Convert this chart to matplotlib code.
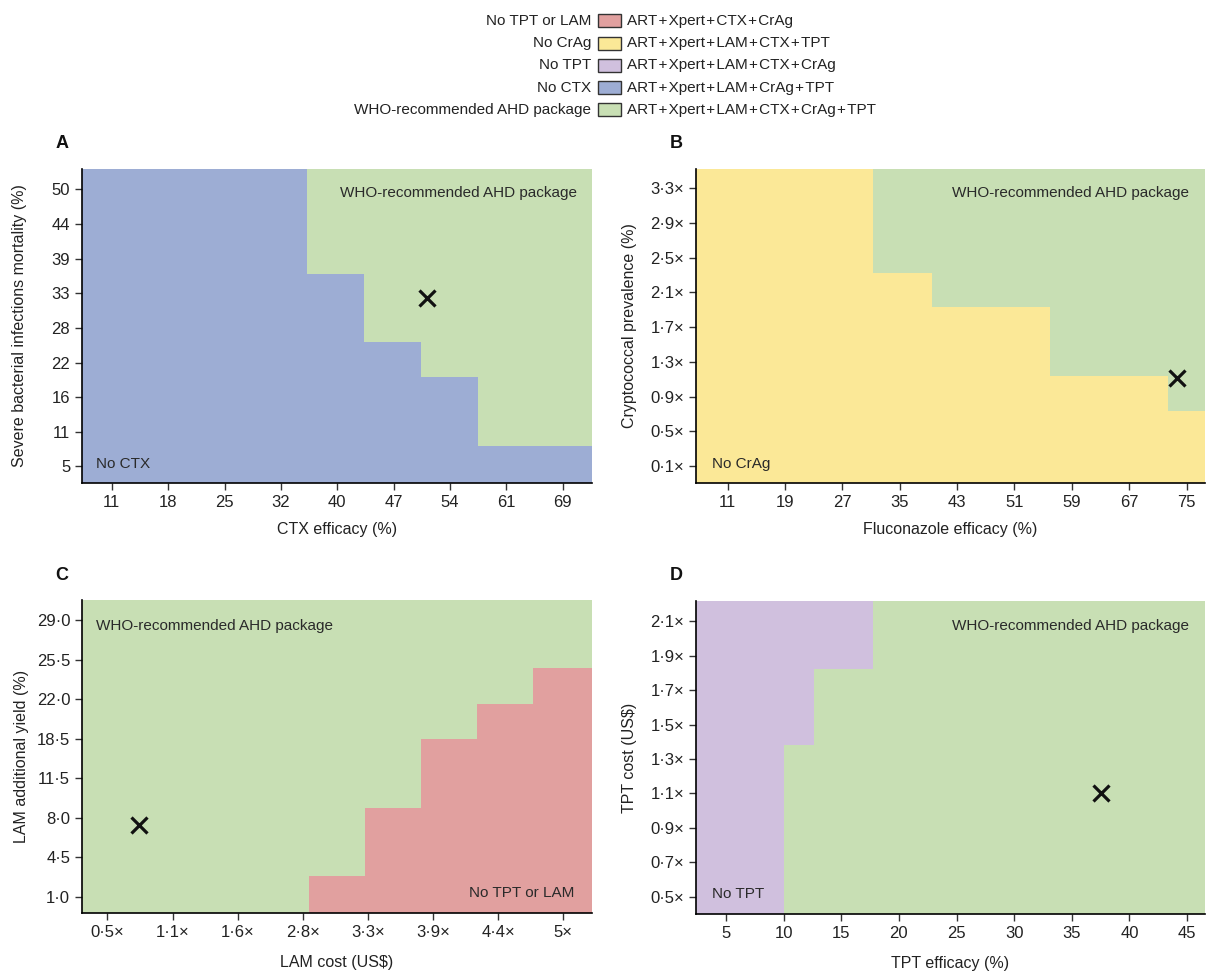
import matplotlib
matplotlib.use("Agg")
import matplotlib.pyplot as plt
from matplotlib.patches import Rectangle

plt.rcParams['font.family'] = ['Liberation Sans', 'DejaVu Sans']
plt.rcParams['font.size'] = 11

# colours of the strategies
c_green = '#c8dfb4'
c_blue = '#9dadd4'
c_yellow = '#fbe897'
c_purple = '#d0c0de'
c_red = '#e1a09f'

sp = '\u200a+\u200a'   # tight spacing round the plus signs

# legend rows
leg_left = ['No TPT or LAM', 'No CrAg', 'No TPT', 'No CTX', 'WHO-recommended AHD package']
leg_right = [sp.join(['ART', 'Xpert', 'CTX', 'CrAg']),
             sp.join(['ART', 'Xpert', 'LAM', 'CTX', 'TPT']),
             sp.join(['ART', 'Xpert', 'LAM', 'CTX', 'CrAg']),
             sp.join(['ART', 'Xpert', 'LAM', 'CrAg', 'TPT']),
             sp.join(['ART', 'Xpert', 'LAM', 'CTX', 'CrAg', 'TPT'])]
leg_colors = [c_red, c_yellow, c_purple, c_blue, c_green]

# panel A
a_x = ['11', '18', '25', '32', '40', '47', '54', '61', '69']
a_y = ['5', '11', '16', '22', '28', '33', '39', '44', '50']
a_step_x = [3.47, 4.48, 5.49, 6.49]      # green starts here (index units)
a_step_y = [5.57, 3.59, 2.57, 0.59]      # green above this level
a_cross = (5.60, 4.85)

# panel B
b_x = ['11', '19', '27', '35', '43', '51', '59', '67', '75']
b_y = ['0·1×', '0·5×', '0·9×', '1·3×', '1·7×', '2·1×', '2·5×', '2·9×', '3·3×']
b_step_x = [2.54, 3.57, 5.62, 7.67]
b_step_y = [5.57, 4.57, 2.58, 1.57]
b_cross = (7.84, 2.54)

# panel C
c_x = ['0·5×', '1·1×', '1·6×', '2·8×', '3·3×', '3·9×', '4·4×', '5×']
c_y = ['1·0', '4·5', '8·0', '11·5', '18·5', '22·0', '25·5', '29·0']
c_step_x = [3.09, 3.95, 4.81, 5.68, 6.54]   # red starts here
c_step_y = [0.53, 2.25, 4.00, 4.89, 5.78]   # red below this level
c_cross = (0.49, 1.81)

# panel D
d_x = ['5', '10', '15', '20', '25', '30', '35', '40', '45']
d_y = ['0·5×', '0·7×', '0·9×', '1·1×', '1·3×', '1·5×', '1·7×', '1·9×', '2·1×']
d_step_y = [4.42, 6.61]                  # purple widens above these levels
d_step_x = [1.00, 1.52, 2.55]            # purple left of this
d_cross = (6.50, 3.02)

W, H = 1211, 972
fig = plt.figure(figsize=(W / 100, H / 100), dpi=100)


def box(l, t, r, b):
    return [l / W, 1 - b / H, (r - l) / W, (b - t) / H]


def style(ax, xl, yl, xlab, ylab, xlim, ylim, ylx, xly):
    ax.set_xticks(range(len(xl)))
    ax.set_xticklabels(xl)
    ax.set_yticks(range(len(yl)))
    ax.set_yticklabels(yl)
    ax.set_xlim(*xlim)
    ax.set_ylim(*ylim)
    ax.set_xlabel(xlab, fontsize=11.5, color='#222222')
    ax.set_ylabel(ylab, fontsize=11.5, color='#222222')
    ax.yaxis.set_label_coords(ylx, 0.5)
    ax.xaxis.set_label_coords(0.5, xly)
    for s in ['top', 'right']:
        ax.spines[s].set_visible(False)
    for s in ['left', 'bottom']:
        ax.spines[s].set_linewidth(1.2)
        ax.spines[s].set_zorder(5)
    ax.tick_params(length=5, width=1, color='#333333', labelcolor='#222222', labelsize=12)


def label(ax, x, y, s, ha):
    ax.text(x, y, s, transform=ax.transAxes, ha=ha, va='center', color='#2a2a2a', fontsize=11, zorder=6)


# ---- A
ax = fig.add_axes(box(82, 169, 592, 483))
xlim = (-0.53, 8.52)
ylim = (-0.48, 8.59)
ax.fill_between([xlim[0], xlim[1]], ylim[0], ylim[1], color=c_blue, lw=0)
ax.fill_between(a_step_x + [xlim[1]], a_step_y + [a_step_y[-1]], ylim[1], step='post', color=c_green, lw=0)
ax.plot(*a_cross, marker='x', color='#111111', ms=11, mew=2.3)
style(ax, a_x, a_y, 'CTX efficacy (%)', 'Severe bacterial infections mortality (%)', xlim, ylim, -0.108, -0.124)
label(ax, 0.97, 0.925, 'WHO-recommended AHD package', 'right')
label(ax, 0.028, 0.062, 'No CTX', 'left')

# ---- B
ax = fig.add_axes(box(696, 169, 1205, 483))
xlim = (-0.55, 8.32)
ylim = (-0.49, 8.55)
ax.fill_between([xlim[0], xlim[1]], ylim[0], ylim[1], color=c_yellow, lw=0)
ax.fill_between(b_step_x + [xlim[1]], b_step_y + [b_step_y[-1]], ylim[1], step='post', color=c_green, lw=0)
ax.plot(*b_cross, marker='x', color='#111111', ms=11, mew=2.3)
style(ax, b_x, b_y, 'Fluconazole efficacy (%)', 'Cryptococcal prevalence (%)', xlim, ylim, -0.116, -0.124)
label(ax, 0.969, 0.923, 'WHO-recommended AHD package', 'right')
label(ax, 0.032, 0.062, 'No CrAg', 'left')

# ---- C
ax = fig.add_axes(box(82, 600, 592, 913))
xlim = (-0.39, 7.44)
ylim = (-0.41, 7.51)
ax.fill_between([xlim[0], xlim[1]], ylim[0], ylim[1], color=c_green, lw=0)
ax.fill_between(c_step_x + [xlim[1]], ylim[0], c_step_y + [c_step_y[-1]], step='post', color=c_red, lw=0)
ax.plot(*c_cross, marker='x', color='#111111', ms=11, mew=2.3)
style(ax, c_x, c_y, 'LAM cost (US$)', 'LAM additional yield (%)', xlim, ylim, -0.104, -0.134)
label(ax, 0.028, 0.918, 'WHO-recommended AHD package', 'left')
label(ax, 0.966, 0.064, 'No TPT or LAM', 'right')

# ---- D
ax = fig.add_axes(box(696, 601, 1205, 914))
xlim = (-0.52, 8.31)
ylim = (-0.50, 8.59)
ax.fill_between([xlim[0], xlim[1]], ylim[0], ylim[1], color=c_green, lw=0)
ax.fill_betweenx([ylim[0]] + d_step_y + [ylim[1]], xlim[0], d_step_x + [d_step_x[-1]], step='post', color=c_purple, lw=0)
ax.plot(*d_cross, marker='x', color='#111111', ms=11, mew=2.3)
style(ax, d_x, d_y, 'TPT efficacy (%)', 'TPT cost (US$)', xlim, ylim, -0.116, -0.134)
label(ax, 0.969, 0.92, 'WHO-recommended AHD package', 'right')
label(ax, 0.032, 0.064, 'No TPT', 'left')

# panel letters
for s, px, py in [('A', 62, 143), ('B', 676, 143), ('C', 62, 575), ('D', 676, 575)]:
    fig.text(px / W, 1 - py / H, s, fontsize=13, fontweight='bold', ha='center', va='center', color='#111111')

# legend
for i in range(len(leg_left)):
    yc = 21 + i * 22.2
    fig.text(591 / W, 1 - yc / H, leg_left[i], ha='right', va='center', fontsize=11, color='#222222')
    fig.patches.append(Rectangle((598 / W, 1 - (yc + 6.5) / H), 23 / W, 13 / H, transform=fig.transFigure,
                                 facecolor=leg_colors[i], edgecolor='#333333', lw=1.0))
    fig.text(627 / W, 1 - yc / H, leg_right[i], ha='left', va='center', fontsize=11, color='#222222')

fig.savefig('out.png', dpi=100)
